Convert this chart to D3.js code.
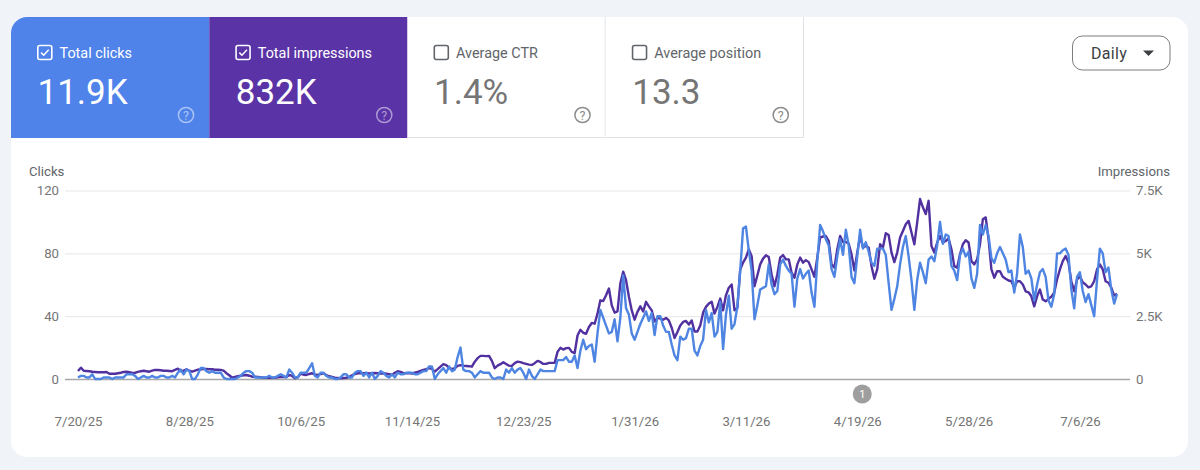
<!DOCTYPE html>
<html>
<head>
<meta charset="utf-8">
<script src="https://cdn.jsdelivr.net/npm/d3@7"></script>
<style>
  html, body { margin: 0; padding: 0; background: #f0f4f9; }
  svg { display: block; font-family: Roboto, sans-serif; }
</style>
</head>
<body>
<div id="chart"></div>
<script>
const tileLabels = ["Total clicks", "Total impressions", "Average CTR", "Average position"];
const tileValues = ["11.9K", "832K", "1.4%", "13.3"];
const tileChecked = [true, true, false, false];
const dateLabels = ["7/20/25", "8/28/25", "10/6/25", "11/14/25", "12/23/25", "1/31/26", "3/11/26", "4/19/26", "5/28/26", "7/6/26"];
const clickTicks = [0, 40, 80, 120];
const impressionTicks = [0, 2500, 5000, 7500];
const impressionTickLabels = ["0", "2.5K", "5K", "7.5K"];
const firstDay = "7/20/25";
const annotationDay = "4/19/26";
const annotationLabel = "1";

// one value per day, 20 days to a row
const clicks = [
  1,2,2,1,1,3,0,0,0,1,1,1,0,1,1,1,1,3,3,3,
  2,0,1,2,1,1,2,1,1,2,2,1,1,2,1,4,6,3,6,5,
  0,0,3,7,7,5,4,5,4,4,4,1,0,0,0,0,1,2,4,5,
  5,4,1,1,1,1,1,2,1,1,2,3,2,1,6,4,1,1,4,4,
  4,7,10,2,1,4,4,2,1,1,0,0,1,3,3,1,1,4,5,5,
  2,4,1,4,0,2,5,4,2,1,3,1,4,3,3,4,4,4,3,3,
  4,5,5,8,8,0,3,5,7,4,8,5,6,14,20,6,5,5,4,1,
  3,5,4,4,4,1,0,1,1,0,6,4,7,4,6,7,4,0,6,2,
  0,3,6,5,5,5,5,5,12,12,12,14,11,11,15,7,18,25,19,21,
  22,11,29,44,39,34,29,30,38,24,39,66,45,41,29,25,30,35,39,43,
  37,42,28,40,40,34,30,30,22,15,12,27,25,26,32,32,18,15,21,25,
  44,36,42,27,30,49,19,41,53,32,35,46,69,96,97,82,69,38,47,57,
  58,59,73,60,54,56,73,76,72,69,67,46,64,70,64,67,69,55,46,75,
  98,94,89,85,70,65,78,89,79,95,85,65,61,78,95,83,87,81,74,72,
  83,83,83,79,61,44,51,59,73,84,91,78,63,44,63,74,68,61,76,78,
  75,85,100,86,92,91,72,69,63,79,83,78,81,64,58,67,98,92,98,91,
  77,74,80,84,80,76,68,69,55,67,92,84,67,69,64,50,60,68,70,65,
  50,46,54,80,80,82,83,79,57,45,65,68,56,49,54,47,40,63,83,80,
  68,71,57,48,54
];

const impressions = [
  320,450,330,320,310,290,280,270,270,270,280,210,210,210,230,250,280,290,270,240,
  250,280,310,330,310,290,330,360,360,350,330,330,320,310,360,410,310,330,390,330,
  290,330,370,390,400,400,390,390,370,370,360,330,230,150,50,80,110,130,150,160,
  130,90,90,80,70,50,50,50,50,50,70,80,90,80,160,120,30,70,210,170,
  160,200,230,170,160,200,230,160,110,80,50,40,30,40,50,80,150,200,230,230,
  230,240,220,230,240,230,220,230,210,190,160,250,310,280,230,230,240,220,250,280,
  320,360,390,430,400,290,390,490,590,550,440,390,430,520,550,530,520,510,490,690,
  830,920,920,910,920,720,430,530,590,670,600,530,520,630,690,670,630,600,570,560,
  630,720,680,600,600,640,640,640,1080,1240,1170,1230,1240,1080,1030,1730,1960,1840,1800,2070,
  2230,2200,2600,3130,3100,3330,3600,2930,2640,2690,3800,4270,3930,3270,2730,2360,2670,2890,2690,3070,
  2890,2730,2290,2430,2400,2360,2430,2330,2040,1630,1870,2130,2270,2310,2170,2330,1890,1890,2130,2640,
  2870,3000,3070,2600,2870,3200,2730,3330,3630,3760,2730,2830,4360,4630,4830,5160,4890,3690,4120,4560,
  4790,4920,4850,4160,3690,4160,4830,4930,4760,4760,4230,4030,4560,4830,4630,4730,4650,4360,4070,4830,
  5630,5670,5690,5490,4560,4430,5160,5690,5450,5450,5390,4960,4320,5030,5690,5230,5290,5230,4490,3990,
  4360,5360,5230,5800,5730,5030,4650,5030,5630,5890,6160,6290,5830,5360,6230,7160,6830,6560,7090,5290,
  5030,5430,5690,5430,5490,5590,5160,4490,4430,4960,5360,5520,5430,4690,4560,4760,5360,6360,6430,5560,
  4360,4030,4290,4290,4070,3990,3920,3890,3630,3890,3890,3760,3490,3450,3290,2890,3290,3560,3160,3090,
  3190,3270,3430,3960,4360,4690,4890,4630,3890,3490,3960,4090,3850,3760,3650,3690,3890,4360,4560,4360,
  3890,3830,3630,3320,3390
];

const width = 1200;
const height = 470;
const parseDay = d3.utcParse("%-m/%-d/%y");
const start = parseDay(firstDay);
const dayOf = i => d3.utcDay.offset(start, i);

const svg = d3.select("#chart").append("svg")
  .attr("width", width)
  .attr("height", height);

// Card
svg.append("rect")
  .attr("x", 11).attr("y", 17)
  .attr("width", 1177).attr("height", 440)
  .attr("rx", 16)
  .attr("fill", "#fff");

svg.append("clipPath").attr("id", "cardClip")
  .append("rect")
  .attr("x", 11).attr("y", 17)
  .attr("width", 1177).attr("height", 440)
  .attr("rx", 16);

// Metric tiles
const tileWidth = 198.25;
const tileFill = ["#4f83ea", "#5a33a6", "#fff", "#fff"];
const tiles = svg.append("g").attr("clip-path", "url(#cardClip)")
  .selectAll("g")
  .data(tileLabels)
  .join("g")
  .attr("transform", (d, i) => `translate(${11 + i * tileWidth},17)`);

tiles.append("rect")
  .attr("width", tileWidth).attr("height", 121)
  .attr("fill", (d, i) => tileFill[i]);

tiles.filter((d, i) => !tileChecked[i]).append("path")
  .attr("d", `M${tileWidth - 0.5} 0V120.5H0`)
  .attr("fill", "none")
  .attr("stroke", "#dfe1e4");

const tileText = i => (tileChecked[i] ? "#fff" : "#616569");

tiles.append("rect")
  .attr("x", 26.8).attr("y", 28.5)
  .attr("width", 14).attr("height", 14)
  .attr("rx", 2)
  .attr("fill", "none")
  .attr("stroke-width", 1.6)
  .attr("stroke", (d, i) => tileText(i));

tiles.filter((d, i) => tileChecked[i]).append("path")
  .attr("d", "M30.100 35.600l2.600 2.600 5-5.400")
  .attr("fill", "none")
  .attr("stroke", "#fff")
  .attr("stroke-width", 1.5);

tiles.append("text")
  .attr("x", 48.5).attr("y", 41)
  .attr("font-size", 14.4)
  .attr("fill", (d, i) => tileText(i))
  .text(d => d);

tiles.append("text")
  .attr("x", 26.5).attr("y", 87)
  .attr("font-size", 35)
  .attr("fill", (d, i) => (tileChecked[i] ? "#fff" : "#757575"))
  .text((d, i) => tileValues[i]);

// Help icons
const helpColor = ["#a9c3f5", "#ac99d3", "#8c8c8c", "#8c8c8c"];
tiles.append("circle")
  .attr("cx", 175).attr("cy", 98)
  .attr("r", 7.6)
  .attr("fill", "none")
  .attr("stroke-width", 1.5)
  .attr("stroke", (d, i) => helpColor[i]);

tiles.append("text")
  .attr("x", 175).attr("y", 102.5)
  .attr("text-anchor", "middle")
  .attr("font-size", 12.5)
  .attr("fill", (d, i) => helpColor[i])
  .text("?");

// Daily dropdown
svg.append("rect")
  .attr("x", 1072.5).attr("y", 36)
  .attr("width", 97.5).attr("height", 34)
  .attr("rx", 10)
  .attr("fill", "#fff")
  .attr("stroke", "#7d7d7d");

svg.append("text")
  .attr("x", 1091).attr("y", 58.5)
  .attr("font-size", 16)
  .attr("letter-spacing", 0.3)
  .attr("fill", "#3c4043")
  .text("Daily");

svg.append("path")
  .attr("d", "M1143 50.500h11l-5.500 5.500z")
  .attr("fill", "#3c4043");

// Scales
const x = d3.scaleUtc()
  .domain([start, dayOf(clicks.length - 1)])
  .range([78, 1117]);

const yClicks = d3.scaleLinear().domain([0, 120]).range([379, 190.5]);
const yImpressions = d3.scaleLinear().domain([0, 7500]).range([379, 190.5]);

// Axes
const leftAxis = svg.append("g")
  .attr("transform", "translate(65,0)")
  .call(d3.axisLeft(yClicks).tickValues(clickTicks).tickSize(-1065).tickPadding(6));
leftAxis.select(".domain").remove();
leftAxis.selectAll("line")
  .attr("stroke", d => (d === 0 ? "#a8a8a8" : "#e6e7e9"))
  .attr("stroke-width", d => (d === 0 ? 1.6 : 1));

const rightAxis = svg.append("g")
  .attr("transform", "translate(1130,0)")
  .call(d3.axisRight(yImpressions)
    .tickValues(impressionTicks)
    .tickSize(0)
    .tickPadding(6)
    .tickFormat((d, i) => impressionTickLabels[i]));
rightAxis.select(".domain").remove();

const bottomAxis = svg.append("g")
  .attr("transform", "translate(0,409)")
  .call(d3.axisBottom(x)
    .tickValues(dateLabels.map(parseDay))
    .tickSize(0)
    .tickPadding(8)
    .tickFormat((d, i) => dateLabels[i]));
bottomAxis.select(".domain").remove();

svg.selectAll(".tick text")
  .attr("font-family", "Roboto, sans-serif")
  .attr("font-size", 13.2)
  .attr("fill", "#757575");

svg.append("text")
  .attr("x", 29).attr("y", 176)
  .attr("font-size", 13.2)
  .attr("fill", "#616569")
  .text("Clicks");

svg.append("text")
  .attr("x", 1170).attr("y", 176)
  .attr("text-anchor", "end")
  .attr("font-size", 13.2)
  .attr("fill", "#616569")
  .text("Impressions");

// Lines, impressions underneath
const impressionLine = d3.line()
  .x((d, i) => x(dayOf(i)))
  .y(d => yImpressions(d));

const clickLine = d3.line()
  .x((d, i) => x(dayOf(i)))
  .y(d => yClicks(d));

svg.append("path")
  .attr("d", impressionLine(impressions))
  .attr("fill", "none")
  .attr("stroke", "#51309f")
  .attr("stroke-width", 2.4)
  .attr("stroke-linejoin", "round");

svg.append("path")
  .attr("d", clickLine(clicks))
  .attr("fill", "none")
  .attr("stroke", "#4f85e2")
  .attr("stroke-width", 2.4)
  .attr("stroke-linejoin", "round");

// Annotation marker
const annX = x(parseDay(annotationDay)) + 5;
svg.append("circle")
  .attr("cx", annX).attr("cy", 394)
  .attr("r", 9.5)
  .attr("fill", "#9e9e9e");

svg.append("text")
  .attr("x", annX).attr("y", 398)
  .attr("text-anchor", "middle")
  .attr("font-size", 11)
  .attr("fill", "#fff")
  .text(annotationLabel);
</script>
</body>
</html>
